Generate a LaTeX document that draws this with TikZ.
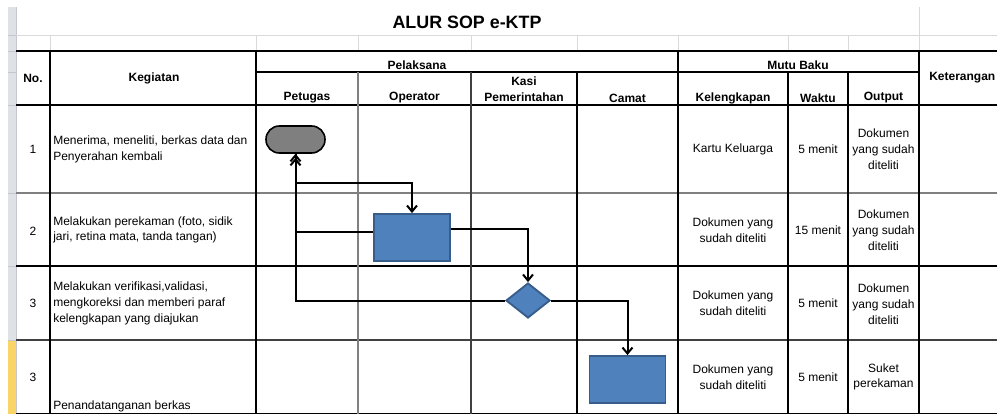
\documentclass[tikz,border=0pt]{standalone}
\usepackage{fontspec}
\setmainfont{Liberation Sans}
\usetikzlibrary{arrows.meta,shapes.geometric}
\definecolor{fillblue}{HTML}{4F81BD}
\definecolor{edgeblue}{HTML}{385D8A}
\definecolor{termgray}{HTML}{7F7F7F}
\definecolor{gridlight}{HTML}{D9D9D9}
\definecolor{stripgray}{HTML}{DEE1E6}
\definecolor{stripline}{HTML}{C4C8CE}
\definecolor{stripyellow}{HTML}{F9D567}
\definecolor{midgray}{HTML}{808080}
\definecolor{darkgray}{HTML}{404040}
\begin{document}
\begin{tikzpicture}[x=0.75pt,y=-0.75pt,
  body/.style={font=\fontsize{9}{11.8}\selectfont, inner sep=0pt, align=center},
  bodyl/.style={body, align=left, anchor=west},
  head/.style={font=\fontsize{9}{11.8}\selectfont\bfseries, inner sep=0pt, align=center},
  titletext/.style={font=\fontsize{13.4}{16}\selectfont\bfseries, inner sep=0pt},
  tline/.style={line width=0.8pt, black},
  gline/.style={line width=0.9pt, midgray},
  lline/.style={line width=0.6pt, gridlight},
  conn/.style={line width=1.5pt, -{Straight Barb[length=4.5pt,width=7.5pt]}},
  termbox/.style={rectangle, rounded corners=10pt, minimum width=44.25pt, minimum height=20.25pt, inner sep=0pt, fill=termgray, draw=black, line width=1.2pt},
  procbox/.style={rectangle, minimum width=57pt, minimum height=35.25pt, inner sep=0pt, fill=fillblue, draw=edgeblue, line width=1.4pt},
  decbox/.style={diamond, minimum width=33pt, minimum height=26.25pt, inner sep=0pt, fill=fillblue, draw=edgeblue, line width=1.4pt}
]
\useasboundingbox (0,0) rectangle (997,414);
\clip (0,0) rectangle (997,414);
\fill[white] (0,0) rectangle (997,414);

% row header strip
\fill[stripgray] (8,7) rectangle (16,340);
\fill[stripyellow] (8,340) rectangle (16,414);
\foreach \yy in {35,51,72,105,193,266,340}
  \draw[stripline, line width=0.6pt] (8,\yy) -- (16,\yy);
\draw[stripline, line width=0.6pt] (16,7) -- (16,414);

% light spreadsheet grid
\draw[lline] (16,35) -- (997,35);
\draw[lline] (919,7) -- (919,51);
\foreach \xx in {50,256,358,471,577,678,788,848}
  \draw[lline] (\xx,35) -- (\xx,51);

% table lines
\draw[tline] (16,51) -- (997,51);
\draw[tline] (256,72) -- (919,72);
\draw[tline] (16,105) -- (997,105);
\draw[gline, line width=1.6pt] (16,193) -- (997,193);
\draw[tline] (16,266) -- (997,266);
\draw[darkgray, line width=0.9pt] (16,340) -- (997,340);
\draw[tline] (16,413.5) -- (997,413.5);
\draw[tline] (50,51) -- (50,414);
\draw[tline] (256,51) -- (256,414);
\draw[gline] (358,72) -- (358,414);
\draw[darkgray, line width=0.9pt] (471,72) -- (471,414);
\draw[tline] (577,72) -- (577,414);
\draw[tline] (678,51) -- (678,414);
\draw[tline] (788,72) -- (788,414);
\draw[tline] (848,72) -- (848,414);
\draw[tline] (919,51) -- (919,414);

% title
\node[titletext] (title) at (467,22) {ALUR SOP e-KTP};

% headers
\node[head] (hno) at (33,78) {No.};
\node[head] (hkeg) at (154,78) {Kegiatan};
\node[head] (hpel) at (417,65) {Pelaksana};
\node[head] (hpet) at (307,98) {Petugas};
\node[head] (hope) at (414.5,98) {Operator};
\node[head] (hkasi) at (524,89.5) {Kasi\\Pemerintahan};
\node[head] (hcam) at (627.5,98) {Camat};
\node[head] (hmutu) at (798,65) {Mutu Baku};
\node[head] (hkel) at (733,98) {Kelengkapan};
\node[head] (hwak) at (818,98) {Waktu};
\node[head] (hout) at (883.5,98) {Output};
\node[head, anchor=west] (hket) at (929,78) {Keterangan};

% row 1
\node[body] (n1) at (33,149) {1};
\node[bodyl] (k1) at (53,149.5) {Menerima, meneliti, berkas data dan\\Penyerahan kembali};
\node[body] (l1) at (733,149) {Kartu Keluarga};
\node[body] (w1) at (818,149) {5 menit};
\node[body] (o1) at (883.5,149) {Dokumen\\yang sudah\\diteliti};

% row 2
\node[body] (n2) at (33,231) {2};
\node[bodyl] (k2) at (53,230) {Melakukan perekaman (foto, sidik\\jari, retina mata, tanda tangan)};
\node[body] (l2) at (733,230) {Dokumen yang\\sudah diteliti};
\node[body] (w2) at (818,230) {15 menit};
\node[body] (o2) at (883.5,230) {Dokumen\\yang sudah\\diteliti};

% row 3
\node[body] (n3) at (33,303) {3};
\node[bodyl] (k3) at (53,303.5) {Melakukan verifikasi,validasi,\\mengkoreksi dan memberi paraf\\kelengkapan yang diajukan};
\node[body] (l3) at (733,303.5) {Dokumen yang\\sudah diteliti};
\node[body] (w3) at (818,303) {5 menit};
\node[body] (o3) at (883.5,304) {Dokumen\\yang sudah\\diteliti};

% row 4
\node[body] (n4) at (33,377) {3};
\node[bodyl] (k4) at (53,406) {Penandatanganan berkas};
\node[body] (l4) at (733,377.5) {Dokumen yang\\sudah diteliti};
\node[body] (w4) at (818,377) {5 menit};
\node[body] (o4) at (883.5,377) {Suket\\perekaman};

% flow shapes
\node[termbox] (term) at (295.5,139.5) {};
\node[procbox] (rec) at (412,237.5) {};
\node[decbox] (dec) at (528,300.5) {};
\node[procbox] (sign) at (627.5,379.5) {};

% connectors
\coordinate (j1) at (295.5,183);
\draw[line width=1.5pt] (term.south) -- (j1);
\draw[conn] (j1) -| (rec.north);
\draw[conn] ([yshift=4.1pt]rec.west) -| (term.south);
\draw[conn, shorten >=3pt] (dec.west) -| (term.south);
\draw[conn] ([yshift=6.4pt]rec.east) -| (dec.north);
\draw[conn] (dec.east) -| (sign.north);
\end{tikzpicture}
\end{document}
